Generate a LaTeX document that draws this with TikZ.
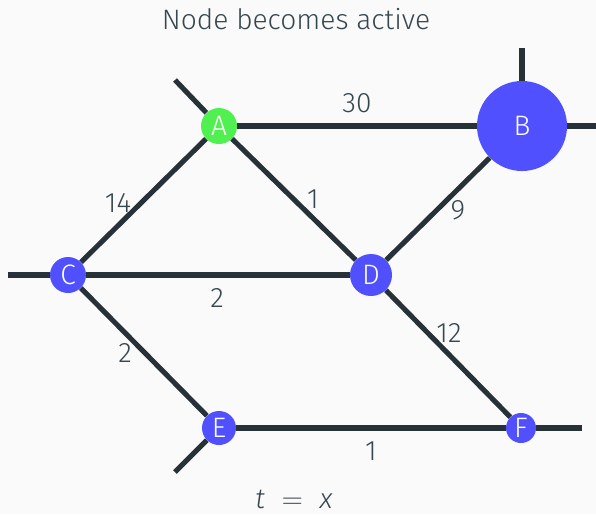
\documentclass[tikz,border=0pt]{standalone}
\usepackage{fontspec}
\setmainfont{Fira Sans}[UprightFont=* Light, ItalicFont=* Light Italic]
\usepackage{tikz}
\definecolor{bg}{HTML}{FAFAFA}
\definecolor{edgec}{HTML}{263238}
\definecolor{textc}{HTML}{37474F}
\definecolor{nodeblue}{HTML}{5050FF}
\definecolor{nodegreen}{HTML}{50F050}

\begin{document}
\begin{tikzpicture}[x=0.025cm, y=-0.025cm, font=\fontsize{20}{24}\selectfont,
	vert/.style={circle, fill=nodeblue, text=white, inner sep=0pt},
	wgt/.style={text=textc, inner sep=1pt},
	edge/.style={draw=edgec, line width=3.6pt}]
	\fill[bg] (0,0) rectangle (596,514);
	\useasboundingbox (0,0) rectangle (596,514);
	% stub ends
	\coordinate (sA) at (175,80);
	\coordinate (sB1) at (522,48);
	\coordinate (sB2) at (596,126);
	\coordinate (sC) at (8,275);
	\coordinate (sE) at (175,472);
	\coordinate (sF) at (582,428);
	% vertices
	\node[vert, fill=nodegreen, minimum size=0.9cm] (A) at (219,126) {A};
	\node[vert, minimum size=2.25cm] (B) at (522,126) {B};
	\node[vert, minimum size=0.9cm] (C) at (68,275) {C};
	\node[vert, minimum size=1.05cm] (D) at (371,275) {D};
	\node[vert, minimum size=0.85cm] (E) at (219,428) {E};
	\node[vert, minimum size=0.75cm] (F) at (521,428) {F};
	% edges
	\foreach \u/\v in {A/B, A/C, A/D, B/D, C/D, C/E, D/F, E/F, A/sA, B/sB1, B/sB2, C/sC, E/sE, F/sF}
		\draw[edge] (\u) -- (\v);
	% weights
	\node[wgt] (wAB) at (357,103) {30};
	\node[wgt] (wAC) at (118,203) {14};
	\node[wgt] (wAD) at (313,199) {1};
	\node[wgt] (wBD) at (458,210) {9};
	\node[wgt] (wCD) at (217,298) {2};
	\node[wgt] (wCE) at (125,353) {2};
	\node[wgt] (wDF) at (449,333) {12};
	\node[wgt] (wEF) at (371,451) {1};
	% captions
	\node[wgt] (title) at (296,19) {Node becomes active};
	\node[wgt] (time) at (294,499) {\textit{t}\hspace{0.6em}$=$\hspace{0.6em}\textit{x}};
\end{tikzpicture}
\end{document}
